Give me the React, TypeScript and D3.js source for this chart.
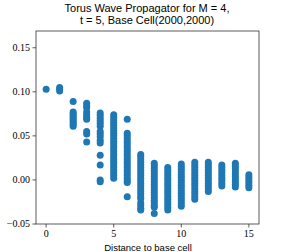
import React from "react";
import * as d3 from "d3";

// distance of each cell from the base cell
const distances = [0, 1, 2, 3, 4, 5, 6, 7, 8, 9, 10, 11, 12, 13, 14, 15];

// propagator values, one list per distance
const d0 = [0.103];
const d1 = [0.105, 0.103, 0.101];
const d2 = [0.089, 0.077, 0.075, 0.073, 0.071, 0.069, 0.067, 0.065, 0.063, 0.061];
const d3v = [0.087, 0.084, 0.082, 0.077, 0.074, 0.071, 0.069, 0.055, 0.052, 0.043];
const d4 = [0.076, 0.073, 0.07, 0.067, 0.064, 0.061, 0.055, 0.052, 0.049, 0.045, 0.042, 0.028, 0.017, 0.0, -0.002];
const d5 = [0.074, 0.071, 0.068, 0.065, 0.062, 0.059, 0.056, 0.053, 0.05, 0.047, 0.044, 0.041, 0.038, 0.035, 0.032, 0.029, 0.026, 0.023, 0.02, 0.017, 0.014, 0.011, 0.008, 0.005, 0.002];
const d6 = [0.069, 0.053, 0.05, 0.047, 0.044, 0.041, 0.038, 0.035, 0.032, 0.029, 0.026, 0.023, 0.02, 0.017, 0.014, 0.011, 0.008, 0.005, 0.002, -0.001, -0.003, -0.019];
const d7 = [0.029, 0.026, 0.023, 0.02, 0.017, 0.014, 0.011, 0.008, 0.005, 0.002, -0.001, -0.004, -0.007, -0.01, -0.013, -0.016, -0.019, -0.021, -0.026, -0.029, -0.032, -0.034];
const d8 = [0.019, 0.016, 0.013, 0.01, 0.007, 0.004, 0.001, -0.002, -0.005, -0.008, -0.011, -0.014, -0.017, -0.02, -0.023, -0.026, -0.029, -0.031, -0.038];
const d9 = [0.014, 0.011, 0.008, 0.005, 0.002, -0.001, -0.004, -0.007, -0.01, -0.013, -0.016, -0.019, -0.022, -0.025, -0.028, -0.031, -0.034];
const d10 = [0.018, 0.015, 0.012, 0.009, 0.006, 0.003, 0.0, -0.003, -0.006, -0.009, -0.012, -0.015, -0.018, -0.021, -0.024, -0.027, -0.03];
const d11 = [0.02, 0.017, 0.014, 0.011, 0.008, 0.005, 0.002, -0.001, -0.004, -0.007, -0.01, -0.013, -0.016, -0.019, -0.022];
const d12 = [0.02, 0.017, 0.014, 0.011, 0.008, 0.005, 0.002, -0.001, -0.004, -0.007, -0.01, -0.013];
const d13 = [0.017, 0.014, 0.011, 0.008, 0.005, 0.002, -0.001, -0.004, -0.007];
const d14 = [0.019, 0.016, 0.013, 0.01, 0.007, 0.004, 0.001, -0.002, -0.005, -0.008];
const d15 = [0.006, 0.003, 0.0, -0.003, -0.006, -0.009];
const columns = [d0, d1, d2, d3v, d4, d5, d6, d7, d8, d9, d10, d11, d12, d13, d14, d15];

const xTicks = [0, 5, 10, 15];
const yTicks = [-0.05, 0, 0.05, 0.1, 0.15];

const App = () => {
  const width = 288;
  const height = 252;
  const margin = { top: 31, right: 29, bottom: 28, left: 36 };

  const x = d3.scaleLinear().domain([-0.75, 15.75]).range([margin.left, width - margin.right]);
  const y = d3.scaleLinear().domain([-0.05, 0.169]).range([height - margin.bottom, margin.top]);

  const points = distances.flatMap((d, i) => columns[i].map((v) => ({ d, v })));
  const axisColor = "#333";
  const serif = "'Liberation Serif', serif";
  const sans = "'Liberation Sans', sans-serif";

  return (
    <svg width={width} height={height} style={{ position: "absolute", left: 0, top: 0 }}>
      <rect width={width} height={height} fill="#fff" />
      <text x={147} y={11.5} textAnchor="middle" fontFamily={sans} fontSize={11} fill="#000">
        Torus Wave Propagator for M = 4,
      </text>
      <text x={147} y={23.5} textAnchor="middle" fontFamily={sans} fontSize={11} fill="#000">
        t = 5, Base Cell(2000,2000)
      </text>

      {points.map((p, i) => (
        <circle key={i} cx={x(p.d)} cy={y(p.v)} r={3.5} fill="#1f77b4" />
      ))}

      {/* y axis ticks */}
      {yTicks.map((t) => (
        <g key={t} transform={`translate(0,${y(t)})`}>
          <line x1={margin.left - 3.5} x2={margin.left} stroke={axisColor} strokeWidth={0.8} />
          <text x={margin.left - 6} dy="0.32em" textAnchor="end" fontFamily={serif} fontSize={10} fill="#000">
            {t < 0 ? "\u2212" + d3.format(".2f")(-t) : d3.format(".2f")(t)}
          </text>
        </g>
      ))}

      {/* x axis ticks */}
      {xTicks.map((t) => (
        <g key={t} transform={`translate(${x(t)},${height - margin.bottom})`}>
          <line y1={0} y2={3.5} stroke={axisColor} strokeWidth={0.8} />
          <text y={13} textAnchor="middle" fontFamily={serif} fontSize={10} fill="#000">
            {t}
          </text>
        </g>
      ))}

      <rect
        x={margin.left}
        y={margin.top}
        width={width - margin.left - margin.right}
        height={height - margin.top - margin.bottom}
        fill="none"
        stroke={axisColor}
        strokeWidth={0.8}
      />

      <text x={148} y={250.5} textAnchor="middle" fontFamily={sans} fontSize={9.5} fill="#000">
        Distance to base cell
      </text>
    </svg>
  );
};

export default App;
